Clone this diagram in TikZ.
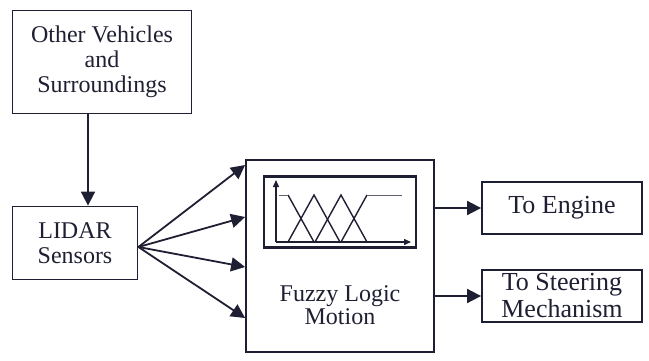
\documentclass[tikz,border=0pt]{standalone}
\usepackage{fontspec}
\setmainfont{Liberation Serif}
\usetikzlibrary{arrows.meta}
\definecolor{ink}{rgb}{0.12,0.12,0.2}

\begin{document}
\begin{tikzpicture}[x=0.5pt, y=-0.5pt,
		box/.style={draw=ink, line width=0.9pt, rectangle, align=center, inner sep=0pt, text=ink, font=\fontsize{12}{12.5}\selectfont},
		outbox/.style={box, minimum width=80pt, minimum height=26pt, font=\fontsize{13}{13.5}\selectfont},
		arrow/.style={draw=ink, line width=0.9pt, -{Triangle[length=7pt,width=7pt]}},
		curve/.style={draw=ink, line width=0.7pt}
	]
	\useasboundingbox (0,0) rectangle (649,360);

	% input side
	\node[box, minimum width=89.5pt, minimum height=51.5pt] (others) at (102,62) {Other Vehicles\\and\\Surroundings};
	\node[box, minimum width=62.5pt, minimum height=36.5pt] (lidar) at (75,243) {LIDAR\\Sensors};
	\draw[arrow] ([xshift=-7pt]others.south) -- ([xshift=6.5pt]lidar.north);

	% fuzzy block
	\node[box, minimum width=94pt, minimum height=96pt] (fuzzy) at (340,256) {};
	\node[box, draw=none, font=\fontsize{12}{11.5}\selectfont] (fuzzy-label) at (340,305) {Fuzzy Logic\\Motion};
	\foreach \dy in {45.5,19.5,-5.5,-31} {
		\draw[arrow] ([yshift=-2pt]lidar.east) -- ([yshift=\dy pt]fuzzy.west);
	}

	% membership functions
	\node[box, line width=1.2pt, minimum width=76pt, minimum height=35.5pt] (panel) at (340,212) {};
	\draw[curve, -{Triangle[length=3.5pt,width=3pt]}] (276,242) -- (411,242);
	\draw[curve, -{Triangle[length=3.5pt,width=3pt]}] (276,242) -- (276,180);
	\draw[curve] (288,195) -- (314,242);
	\foreach \c in {314,341} {
		\draw[curve] (\c-26,242) -- (\c,195) -- (\c+26,242);
	}
	\draw[curve] (341,242) -- (367,195);
	\draw[ink!70, line width=0.4pt] (279,195) -- (288,195);
	\draw[ink!70, line width=0.4pt] (367,195) -- (402,195);

	% outputs
	\node[outbox] (engine) at (562,208) {To Engine};
	\node[outbox] (steering) at (562,296) {To Steering\\Mechanism};
	\draw[arrow] (fuzzy.east |- engine.west) -- (engine.west);
	\draw[arrow] (fuzzy.east |- steering.west) -- (steering.west);

\end{tikzpicture}
\end{document}
